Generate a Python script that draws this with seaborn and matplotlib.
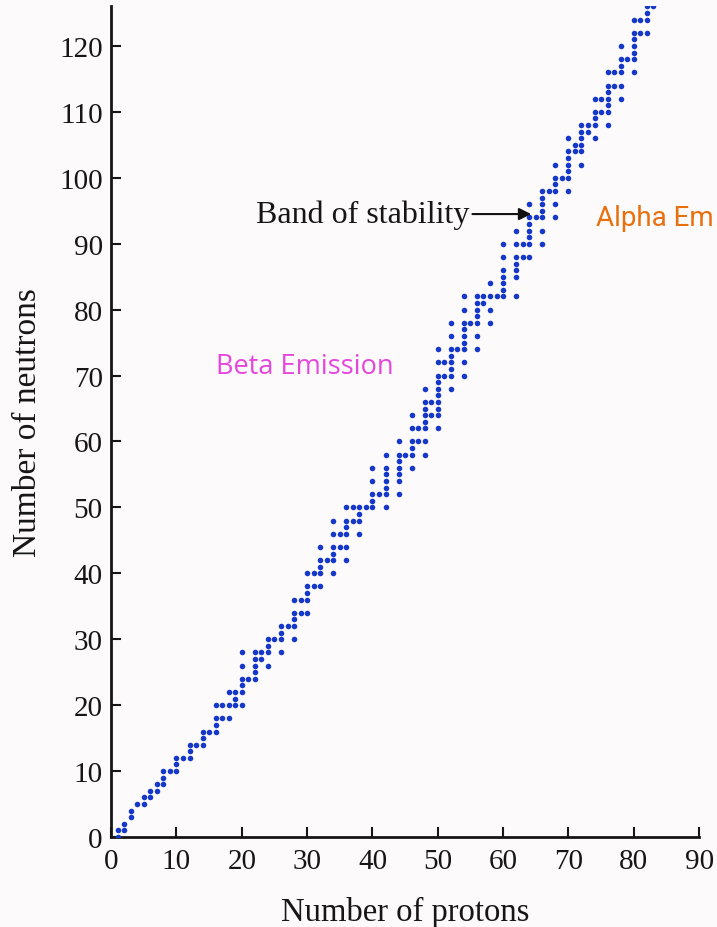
import pandas as pd
import matplotlib
matplotlib.use('Agg')
import matplotlib.pyplot as plt
import seaborn as sns

#stable nuclides: proton number and the neutron numbers of its stable isotopes
protons = [1, 2, 3, 4, 5, 6, 7, 8, 9, 10, 11, 12, 13, 14, 15, 16, 17, 18, 19, 20,
           21, 22, 23, 24, 25, 26, 27, 28, 29, 30, 31, 32, 33, 34, 35, 36, 37, 38, 39, 40,
           41, 42, 44, 45, 46, 47, 48, 49, 50, 51, 52, 53, 54, 55, 56, 57, 58, 59, 60,
           62, 63, 64, 65, 66, 67, 68, 69, 70, 71, 72, 73, 74, 75, 76, 77, 78, 79, 80,
           81, 82, 83]
neutron_sets = [
    [0, 1], [1, 2], [3, 4], [5], [5, 6], [6, 7], [7, 8], [8, 9, 10], [10], [10, 11, 12],
    [12], [12, 13, 14], [14], [14, 15, 16], [16], [16, 17, 18, 20], [18, 20], [18, 20, 22],
    [20, 21, 22], [20, 22, 23, 24, 26, 28],
    [24], [24, 25, 26, 27, 28], [27, 28], [26, 28, 29, 30], [30], [28, 30, 31, 32], [32],
    [30, 32, 33, 34, 36], [34, 36], [34, 36, 37, 38, 40], [38, 40], [38, 40, 41, 42, 44],
    [42], [40, 42, 43, 44, 46, 48], [44, 46], [42, 44, 46, 47, 48, 50], [48, 50],
    [46, 48, 49, 50], [50], [50, 51, 52, 54, 56],
    [52], [50, 52, 53, 54, 55, 56, 58], [52, 54, 55, 56, 57, 58, 60], [58],
    [56, 58, 59, 60, 62, 64], [60, 62], [58, 60, 62, 63, 64, 65, 66, 68], [64, 66],
    [62, 64, 65, 66, 67, 68, 69, 70, 72, 74], [70, 72], [68, 70, 71, 72, 73, 74, 76, 78],
    [74], [70, 72, 74, 75, 76, 77, 78, 80, 82], [78], [74, 76, 78, 79, 80, 81, 82],
    [81, 82], [78, 80, 82, 84], [82], [82, 83, 84, 85, 86, 88, 90],
    [82, 85, 86, 87, 88, 90, 92], [88, 90], [88, 90, 91, 92, 93, 94, 96], [94],
    [90, 92, 94, 95, 96, 97, 98], [98], [94, 96, 98, 99, 100, 102], [100],
    [98, 100, 101, 102, 103, 104, 106], [104, 105], [102, 104, 105, 106, 107, 108],
    [107, 108], [106, 108, 109, 110, 112], [110, 112], [108, 110, 111, 112, 113, 114, 116],
    [114, 116], [112, 114, 116, 117, 118, 120], [118],
    [116, 118, 119, 120, 121, 122, 124], [122, 124], [122, 124, 125, 126], [126]]

x_ticks = [0, 10, 20, 30, 40, 50, 60, 70, 80, 90]
y_ticks = [0, 10, 20, 30, 40, 50, 60, 70, 80, 90, 100, 110, 120]


def build_df():
    rows = {'protons': [], 'neutrons': []}
    for z, ns in zip(protons, neutron_sets):
        for n in ns:
            rows['protons'].append(z)
            rows['neutrons'].append(n)
    return pd.DataFrame(rows)


def main():
    df = build_df()
    sns.set_style('ticks')
    plt.rcParams['font.family'] = ['Liberation Serif', 'DejaVu Serif']
    bg = '#fcfafa'
    ink = '#161616'
    fig = plt.figure(figsize=(7.17, 9.28), dpi=100, facecolor=bg)
    ax = fig.add_axes([0.155, 0.097, 0.82, 0.895])
    ax.set_facecolor(bg)
    sns.scatterplot(x='protons', y='neutrons', data=df, ax=ax, color='#1638c8',
                    s=16, linewidth=0, zorder=3)
    ax.set_xlim(0, 90)
    ax.set_ylim(0, 126)
    ax.set_xticks(x_ticks)
    ax.set_yticks(y_ticks)
    ax.tick_params(direction='in', length=7, width=1.5, labelsize=21, colors=ink)
    ax.tick_params(axis='x', pad=8)
    ax.tick_params(axis='y', pad=6)
    for side in ['top', 'right']:
        ax.spines[side].set_visible(False)
    for side in ['left', 'bottom']:
        ax.spines[side].set_linewidth(2)
        ax.spines[side].set_color(ink)
    ax.set_xlabel('Number of protons', fontsize=23.5, color=ink, labelpad=16)
    ax.set_ylabel('Number of neutrons', fontsize=24, color=ink, labelpad=12)
    ax.annotate('Band of stability', xy=(64.3, 94.5), xytext=(54.8, 94.5),
                ha='right', va='center', fontsize=23, color=ink,
                arrowprops=dict(arrowstyle='-|>', color='#111111', lw=1.5,
                                mutation_scale=18, shrinkA=0, shrinkB=0))
    ax.text(29.7, 71.5, 'Beta Emission', ha='center', va='center', fontsize=19.5,
            color='#e546dc', family=['Open Sans', 'DejaVu Sans'])
    ax.text(74.2, 94, 'Alpha Em', ha='left', va='center', fontsize=20,
            color='#e8700f', family=['Roboto', 'DejaVu Sans'], clip_on=False)
    plt.savefig('out.png', dpi=100, facecolor=bg)


if __name__ == '__main__':
    main()
